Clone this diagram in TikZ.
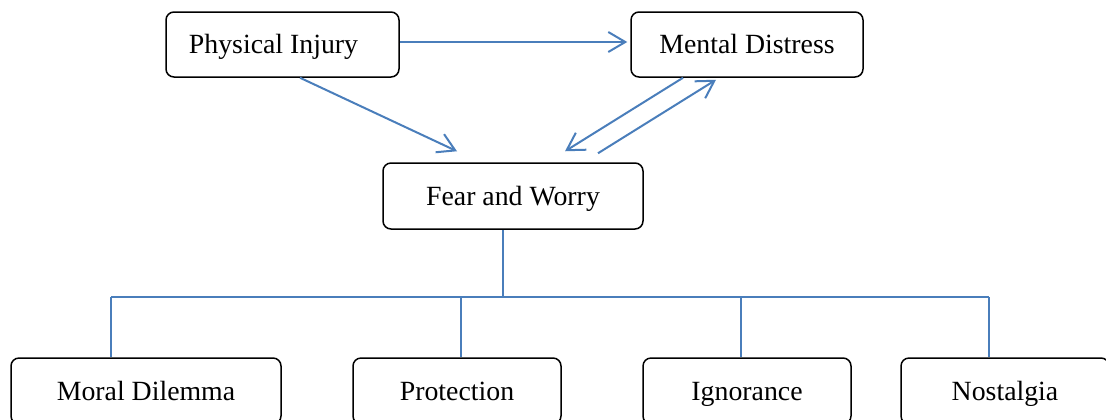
\documentclass[tikz,border=0pt]{standalone}
\usepackage{fontspec}
\setmainfont{Liberation Serif}
\usetikzlibrary{arrows.meta}
\definecolor{conncol}{HTML}{4A7EBB}
\tikzset{
  box/.style={draw=black, line width=0.75pt, rounded corners=4pt, inner sep=0pt,
    minimum height=32.5pt, text height=9.2pt, text depth=0pt,
    font=\fontsize{13.9pt}{16pt}\selectfont},
  conn/.style={draw=conncol, line width=1pt},
  arr/.style={conn, -{Straight Barb[length=8.5pt,width=10pt]}}
}
\begin{document}
\begin{tikzpicture}[x=0.5pt,y=-0.5pt]
\useasboundingbox (0,0) rectangle (1106,419);
\clip (0,0) rectangle (1106,419);
% top row
\node[box, minimum width=116.5pt] (PI) at (282.5,44.5) {Physical Injury\hspace*{9pt}};
\node[box, minimum width=116pt] (MD) at (747,44.5) {Mental Distress};
\node[box, minimum width=130pt, minimum height=33pt] (FW) at (513,196) {Fear and Worry};
% bottom row
\node[box, minimum width=135pt, minimum height=33pt] (MoD) at (146,391) {Moral Dilemma};
\node[box, minimum width=104pt, minimum height=33pt] (Pro) at (457,391) {Protection};
\node[box, minimum width=104pt, minimum height=33pt] (Ign) at (747,391) {Ignorance};
\node[box, minimum width=104pt, minimum height=33pt] (Nos) at (1005,391) {Nostalgia};
% arrows
\draw[arr, shorten >=1.5pt] ([yshift=1.25pt]PI.east) -- ([yshift=1.25pt]MD.west);
\draw[arr] ([xshift=8.75pt]PI.south) -- ([xshift=-28pt,yshift=5.5pt]FW.north);
\draw[arr] ([xshift=-32pt]MD.south) -- ([xshift=26pt,yshift=5.5pt]FW.north);
\draw[arr] ([xshift=42.5pt,yshift=4.5pt]FW.north) -- ([xshift=-15.5pt,yshift=-1pt]MD.south);
% tree
\coordinate (busL) at (111,297);
\coordinate (busR) at (989,297);
\draw[conn] ([xshift=-5pt]FW.south) -- ([xshift=-5pt]FW.south |- busL);
\draw[conn] (busL) -- (busR);
\draw[conn] ([xshift=-17.5pt]MoD.north) -- ([xshift=-17.5pt]MoD.north |- busL);
\draw[conn] ([xshift=2pt]Pro.north) -- ([xshift=2pt]Pro.north |- busL);
\draw[conn] ([xshift=-3pt]Ign.north) -- ([xshift=-3pt]Ign.north |- busL);
\draw[conn] ([xshift=-8pt]Nos.north) -- ([xshift=-8pt]Nos.north |- busL);
\end{tikzpicture}
\end{document}
